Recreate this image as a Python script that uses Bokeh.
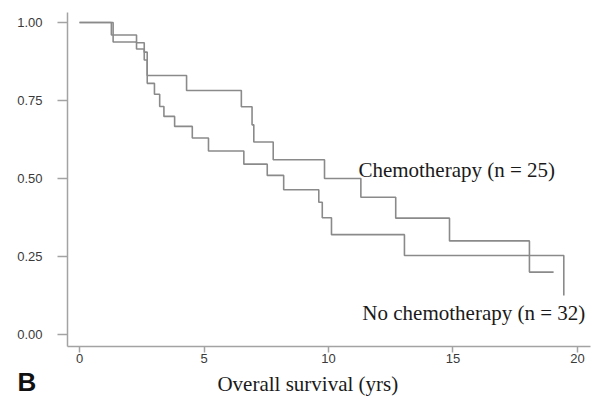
from bokeh.plotting import figure
from bokeh.models import Range1d, FixedTicker, Label
from bokeh.embed import file_html
from bokeh.resources import INLINE

# Kaplan-Meier steps: time of each event (years) and survival after it
chemo_time = [0, 1.28, 2.29, 2.60, 2.72, 4.30, 6.50, 6.93, 7.00, 7.78, 9.84, 11.30, 12.70, 14.86, 18.07, 19.04]
chemo_surv = [1.0, 0.96, 0.935, 0.905, 0.83, 0.782, 0.73, 0.672, 0.617, 0.56, 0.50, 0.44, 0.373, 0.30, 0.20, 0.20]

nochemo_time = [0, 1.35, 2.29, 2.60, 2.72, 3.01, 3.22, 3.39, 3.82, 4.53, 5.18, 6.60, 7.54, 8.20, 9.61, 9.75, 10.12, 13.05, 19.45]
nochemo_surv = [1.0, 0.9375, 0.915, 0.88, 0.805, 0.77, 0.731, 0.699, 0.667, 0.63, 0.588, 0.546, 0.51, 0.464, 0.424, 0.374, 0.32, 0.253, 0.125]

x_ticks = [0, 5, 10, 15, 20]
y_ticks = [0.0, 0.25, 0.5, 0.75, 1.0]
y_tick_labels = ["0.00", "0.25", "0.50", "0.75", "1.00"]

chemo_label = "Chemotherapy (n = 25)"
nochemo_label = "No chemotherapy (n = 32)"
x_title = "Overall survival (yrs)"
panel_letter = "B"

line_col = "#8a8a8a"
axis_col = "#a3a3a3"
serif = "Liberation Serif"
sans = "Liberation Sans"

# axis box (data units): the axes are pinned inside a full-canvas frame so the
# axis title and the panel letter can sit below the x axis without clipping
x_lo, x_hi = -0.482, 20.52
y_lo, y_hi = -0.0385, 1.032

p = figure(width=593, height=396, output_backend="svg", toolbar_location=None,
           x_range=Range1d(-3.173, 20.643), y_range=Range1d(-0.1987, 1.0705),
           min_border=0)
p.outline_line_color = None
p.xgrid.visible = False
p.ygrid.visible = False
p.background_fill_color = "white"
p.border_fill_color = "white"

p.step(chemo_time, chemo_surv, mode="after", line_color=line_col, line_width=1.6)
p.step(nochemo_time, nochemo_surv, mode="after", line_color=line_col, line_width=1.6)

for ax in (p.xaxis[0], p.yaxis[0]):
    ax.axis_line_color = axis_col
    ax.axis_line_width = 1.5
    ax.major_tick_line_color = axis_col
    ax.major_tick_line_width = 1.5
    ax.minor_tick_line_color = None
    ax.major_tick_in = 0
    ax.major_label_text_font = sans
    ax.major_label_text_font_size = "13px"
    ax.major_label_text_color = "#3a3a3a"

p.xaxis.fixed_location = y_lo
p.xaxis.bounds = (x_lo, x_hi)
p.xaxis.ticker = FixedTicker(ticks=x_ticks)
p.xaxis.major_tick_out = 6
p.xaxis.major_label_standoff = 1

p.yaxis.fixed_location = x_lo
p.yaxis.bounds = (y_lo, y_hi)
p.yaxis.ticker = FixedTicker(ticks=y_ticks)
p.yaxis.major_label_overrides = {t: s for t, s in zip(y_ticks, y_tick_labels)}
p.yaxis.major_tick_out = 10
p.yaxis.major_label_standoff = 15

label_style = dict(text_font=serif, text_font_size="21px", text_color="#1a1a1a",
                   text_baseline="alphabetic", text_align="left")
p.add_layout(Label(x=11.2, y=0.527, text=chemo_label, **label_style))
p.add_layout(Label(x=11.36, y=0.068, text=nochemo_label, **label_style))
p.add_layout(Label(x=5.54, y=-0.160, text=x_title, **label_style))
p.add_layout(Label(x=-2.49, y=-0.1535, text=panel_letter, text_font=sans,
                   text_font_size="26px", text_font_style="bold", text_color="#111111",
                   text_baseline="alphabetic", text_align="left"))

open("out.html", "w").write(file_html(p, INLINE))
